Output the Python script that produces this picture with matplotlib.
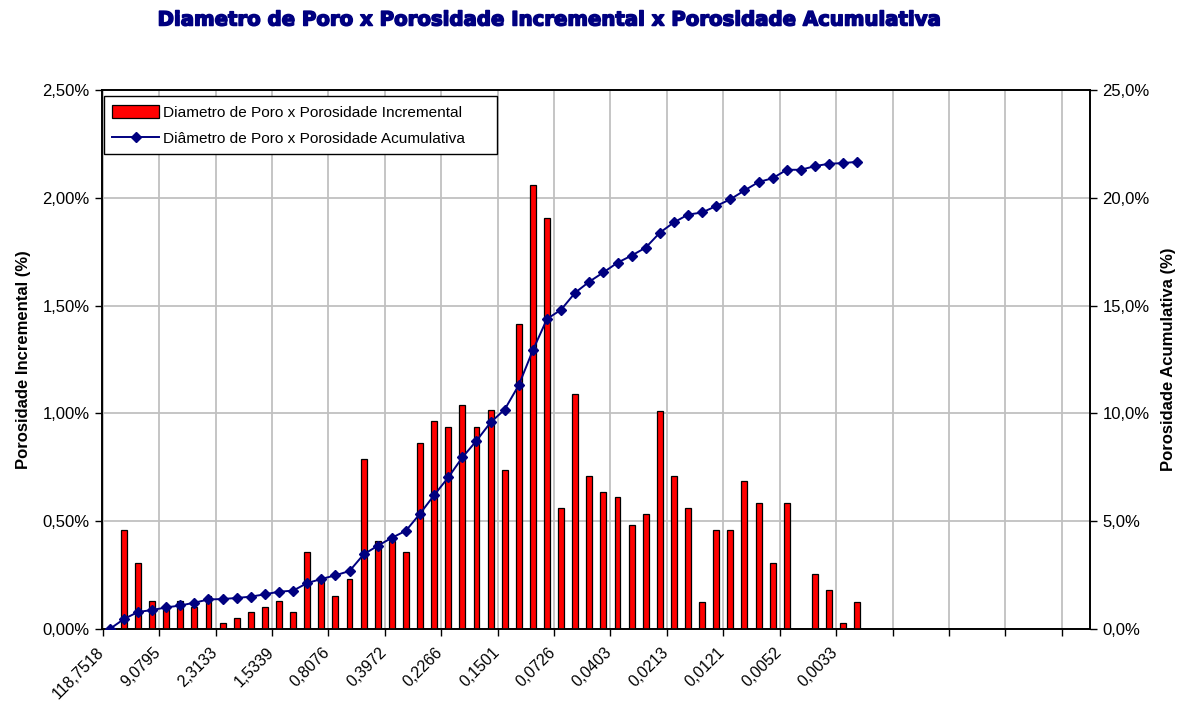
import numpy as np
import matplotlib.pyplot as plt
import matplotlib.patheffects as pe
from matplotlib.ticker import FuncFormatter, MultipleLocator
from matplotlib.patches import Patch
from matplotlib.lines import Line2D

plt.rcParams['font.family'] = ['Liberation Sans', 'DejaVu Sans']

# categorias do eixo x (diametro de poro, um rotulo a cada 4 classes)
n_categorias = 70
rotulos_diametro = ['118,7518', '9,0795', '2,3133', '1,5339', '0,8076', '0,3972', '0,2266',
                    '0,1501', '0,0726', '0,0403', '0,0213', '0,0121', '0,0052', '0,0033']
passo_rotulo = 4

# porosidade incremental (%) por classe de diametro
por_incremental = [0.000, 0.459, 0.307, 0.128, 0.103, 0.128, 0.103, 0.154, 0.026, 0.051,
                   0.077, 0.103, 0.128, 0.077, 0.358, 0.240, 0.154, 0.230, 0.788, 0.408,
                   0.408, 0.357, 0.864, 0.963, 0.938, 1.040, 0.938, 1.014, 0.737, 1.413,
                   2.058, 1.908, 0.560, 1.088, 0.711, 0.636, 0.610, 0.483, 0.533, 1.012,
                   0.711, 0.560, 0.127, 0.459, 0.459, 0.686, 0.585, 0.307, 0.585, 0.000,
                   0.255, 0.179, 0.026, 0.127]

# porosidade acumulativa (%)
por_acumulativa = [0.00, 0.46, 0.79, 0.88, 1.00, 1.09, 1.22, 1.37, 1.39, 1.44,
                   1.50, 1.61, 1.73, 1.78, 2.13, 2.32, 2.49, 2.69, 3.46, 3.86,
                   4.23, 4.56, 5.35, 6.21, 7.03, 7.96, 8.73, 9.58, 10.18, 11.31,
                   12.93, 14.38, 14.81, 15.60, 16.11, 16.54, 16.99, 17.32, 17.69, 18.38,
                   18.86, 19.22, 19.32, 19.62, 19.93, 20.34, 20.73, 20.91, 21.30, 21.30,
                   21.47, 21.58, 21.61, 21.67]

nome_inc = 'Diametro de Poro x Porosidade Incremental'
nome_acum = 'Diâmetro de Poro x Porosidade Acumulativa'
titulo = 'Diametro de Poro x Porosidade Incremental x Porosidade Acumulativa'

fig = plt.figure(figsize=(11.78, 7.02), dpi=100)
ax = fig.add_axes([102 / 1178, 1 - 629 / 702, 988 / 1178, 539 / 702])
ax2 = ax.twinx()

x = np.arange(len(por_incremental))
ax.bar(x, por_incremental, width=0.42, color='#ff0000', edgecolor='black',
       linewidth=0.9, zorder=3)
ax2.plot(np.arange(len(por_acumulativa)), por_acumulativa, color='#000080',
         linewidth=1.4, marker='D', markersize=5, zorder=4)

ax.set_xlim(-0.5, n_categorias - 0.5)
ax.set_ylim(0, 2.5)
ax2.set_ylim(0, 25)

ax.yaxis.set_major_locator(MultipleLocator(0.5))
ax2.yaxis.set_major_locator(MultipleLocator(5))
ax.yaxis.set_major_formatter(FuncFormatter(lambda v, p: f'{v:.2f}%'.replace('.', ',')))
ax2.yaxis.set_major_formatter(FuncFormatter(lambda v, p: f'{v:.1f}%'.replace('.', ',')))

# rotulos nas classes, marcas e grade entre grupos de classes
ax.set_xticks(np.arange(len(rotulos_diametro)) * passo_rotulo - 0.55)
ax.set_xticklabels(rotulos_diametro, rotation=45, ha='right', va='center',
                   rotation_mode='anchor')
ax.set_xticks(np.arange(-0.5, n_categorias - 0.5, passo_rotulo), minor=True)
ax.tick_params(axis='x', which='major', length=0, pad=15, labelsize=11.5)
ax.tick_params(axis='x', which='minor', length=5, width=1, direction='out')
ax.tick_params(axis='y', length=5, width=1, labelsize=12, pad=4)
ax2.tick_params(axis='y', length=5, width=1, labelsize=12, pad=4)

ax.grid(True, which='minor', axis='x', color='#c0c0c0', linewidth=1.3, zorder=0)
ax.grid(True, which='major', axis='y', color='#c0c0c0', linewidth=1.3, zorder=0)
ax.set_axisbelow(True)

for a in (ax, ax2):
    for s in a.spines.values():
        s.set_color('black')
        s.set_linewidth(1.2)

ax.set_ylabel('Porosidade Incremental (%)', fontsize=12, fontweight='bold', labelpad=8)
ax2.set_ylabel('Porosidade Acumulativa (%)', fontsize=12, fontweight='bold',
               rotation=90, labelpad=8)

handles = [Patch(facecolor='#ff0000', edgecolor='black', linewidth=0.9),
           Line2D([], [], color='#000080', linewidth=1.4, marker='D', markersize=5)]
leg = ax2.legend(handles, [nome_inc, nome_acum], loc='upper left', mode='expand',
                 bbox_to_anchor=(0.002, 0.5, 0.398, 0.488), fontsize=11.1, frameon=True,
                 fancybox=False, edgecolor='black', framealpha=1, labelspacing=0.75,
                 handlelength=3.0, handleheight=0.9, handletextpad=0.3, borderpad=0.55,
                 borderaxespad=0)
leg.get_frame().set_linewidth(1.0)

fig.text(550 / 1178, 1 - 20 / 702, titulo, ha='center', va='center', fontsize=14.2,
         fontweight='bold', color='#000080', family='DejaVu Sans',
         path_effects=[pe.withStroke(linewidth=1.1, foreground='#000080')])

fig.savefig('out.png', dpi=100, facecolor='white')
